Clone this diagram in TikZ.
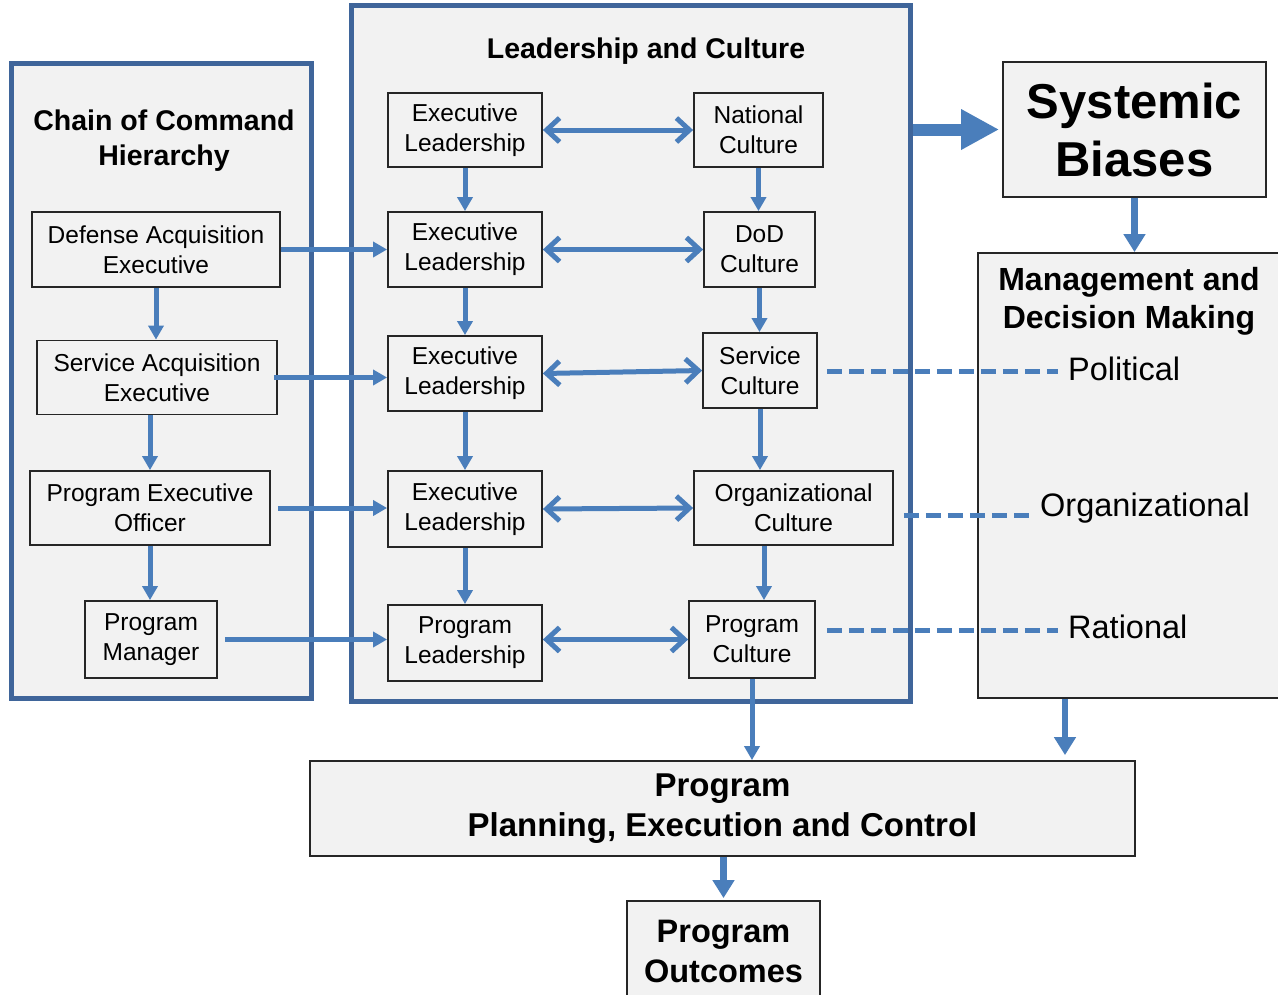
\documentclass[tikz,border=0pt]{standalone}
\usepackage{fontspec}
\setmainfont{Liberation Sans}
\usetikzlibrary{arrows.meta}
\definecolor{arrblue}{HTML}{4A7EBB}
\definecolor{contblue}{HTML}{3F659A}
\definecolor{boxfill}{HTML}{F2F2F2}
\definecolor{boxline}{HTML}{262626}
\tikzset{
 nbox/.style={draw=boxline, line width=1.8pt, fill=boxfill, inner sep=0pt, align=center, font=\fontsize{24.5}{30}\selectfont},
 bigbox/.style={draw=boxline, line width=1.8pt, fill=boxfill, inner sep=0pt},
 cont/.style={draw=contblue, line width=5pt, fill=boxfill, inner sep=0pt},
 arr/.style={draw=arrblue, line width=5pt, -{Triangle[length=14pt,width=15pt]}},
 arrb/.style={draw=arrblue, line width=6.5pt, -{Triangle[length=18pt,width=21pt]}},
 dbl/.style={draw=arrblue, line width=5pt, {Straight Barb[length=13pt,width=24pt]}-{Straight Barb[length=13pt,width=24pt]}},
 dashln/.style={draw=arrblue, line width=5pt, dash pattern=on 15pt off 7pt},
 ttl/.style={font=\bfseries\fontsize{28.5}{35}\selectfont, align=center, inner sep=0pt},
 lbl/.style={font=\fontsize{32.5}{38}\selectfont, inner sep=0pt, anchor=west},
}
\begin{document}
\begin{tikzpicture}[x=1pt,y=-1pt]
\clip (0,0) rectangle (1278,994);
\fill[white] (0,0) rectangle (1278,994);
% containers
\node[cont, minimum width=300, minimum height=635] (lc) at (161,380.5) {};
\node[cont, minimum width=559, minimum height=696] (mc) at (630.5,353) {};
\node[bigbox, minimum width=304, minimum height=445] (mdm) at (1130,475.5) {};
% titles
\node[ttl] (lct) at (164,141) {Chain of Command\\Hierarchy};
\node[ttl] (mct) at (646,51) {Leadership and Culture};
\node[ttl, font=\bfseries\fontsize{32}{38}\selectfont] (mdmt) at (1129,301) {Management and\\Decision Making};
% left nodes
\node[nbox, minimum width=248, minimum height=75] (dae) at (156,249.5) {Defense Acquisition\\Executive};
\node[nbox, minimum width=240, minimum height=74] (sae) at (157,377.5) {Service Acquisition\\Executive};
\node[nbox, minimum width=240, minimum height=74] (peo) at (150,508) {Program Executive\\Officer};
\node[nbox, minimum width=132, minimum height=77] (pm) at (151,639.5) {Program\\Manager};
% middle left nodes
\node[nbox, minimum width=154, minimum height=74] (el1) at (465,130) {Executive\\Leadership};
\node[nbox, minimum width=154, minimum height=75] (el2) at (465,249.5) {Executive\\Leadership};
\node[nbox, minimum width=154, minimum height=75] (el3) at (465,373.5) {Executive\\Leadership};
\node[nbox, minimum width=154, minimum height=76] (el4) at (465,509) {Executive\\Leadership};
\node[nbox, minimum width=154, minimum height=76] (pl) at (465,643) {Program\\Leadership};
% middle right nodes
\node[nbox, minimum width=129, minimum height=74] (nc) at (758.5,130) {National\\Culture};
\node[nbox, minimum width=111, minimum height=75] (dod) at (759.5,249.5) {DoD\\Culture};
\node[nbox, minimum width=114, minimum height=75] (sc) at (760,370.5) {Service\\Culture};
\node[nbox, minimum width=199, minimum height=74] (oc) at (793.5,508) {Organizational\\Culture};
\node[nbox, minimum width=126, minimum height=77] (pc) at (752,639.5) {Program\\Culture};
% right nodes
\node[bigbox, minimum width=263, minimum height=135, align=center, font=\bfseries\fontsize{49}{58}\selectfont] (sb) at (1134.5,129.5) {Systemic\\Biases};
\node[bigbox, minimum width=825, minimum height=95, align=center, font=\bfseries\fontsize{33}{40}\selectfont] (ppec) at (722.5,808.5) {Program\\Planning, Execution and Control};
\node[bigbox, minimum width=193, minimum height=100, align=center, font=\bfseries\fontsize{32.5}{40}\selectfont] (po) at (723.5,951) {Program\\Outcomes};
% labels in MDM
\node[lbl] (pol) at (1068,369) {Political};
\node[lbl] (org) at (1040,508) {Organizational};
\node[lbl] (rat) at (1068,627) {Rational};
% left column arrows
\draw[arr] (dae.south) -- (dae.south |- sae.north);
\draw[arr] (sae.south -| peo.north) -- (peo.north);
\draw[arr] (peo.south) -- (peo.south |- pm.north);
% left to middle
\draw[arr] (dae.east) -- (dae.east -| el2.west);
\draw[arr, shorten <=-4pt] (sae.east) -- (sae.east -| el3.west);
\draw[arr, shorten <=7pt] (peo.east) -- (peo.east -| el4.west);
\draw[arr, shorten <=7pt] (pm.east) -- (pm.east -| pl.west);
% middle left vertical
\draw[arr] (el1.south) -- (el2.north);
\draw[arr] (el2.south) -- (el3.north);
\draw[arr] (el3.south) -- (el4.north);
\draw[arr] (el4.south) -- (pl.north);
% middle right vertical
\draw[arr] (nc.south) -- (nc.south |- dod.north);
\draw[arr] (dod.south) -- (dod.south |- sc.north);
\draw[arr] (sc.south) -- (sc.south |- oc.north);
\coordinate (ocx) at (764,0);
\draw[arr] (ocx |- oc.south) -- (ocx |- pc.north);
% double arrows
\draw[dbl] (el1.east) -- (nc.west);
\draw[dbl] (el2.east) -- (dod.west);
\draw[dbl] (el3.east) -- (sc.west);
\draw[dbl] (el4.east) -- (oc.west);
\draw[dbl] (pl.east |- pc.west) -- (pc.west);
% dashed lines
\coordinate (py) at (0,371);
\coordinate (oy) at (0,515);
\coordinate (ry) at (0,630);
\draw[dashln, shorten <=9pt, shorten >=10pt] (sc.east |- py) -- (pol.west |- py);
\draw[dashln, shorten <=10pt, shorten >=5pt] (oc.east |- oy) -- (org.west |- oy);
\draw[dashln, shorten <=11pt, shorten >=10pt] (pc.east |- ry) -- (rat.west |- ry);
% big arrow
\draw[draw=arrblue, line width=12pt, -{Triangle[length=38pt,width=38pt]}, shorten >=3pt] (mc.east |- sb.west) -- (sb.west);
% right column arrows
\draw[arrb] (sb.south) -- (sb.south |- mdm.north);
\coordinate (mx) at (1065,0);
\draw[arrb, shorten >=5pt] (mx |- mdm.south) -- (mx |- ppec.north);
\draw[arr] (pc.south) -- (pc.south |- ppec.north);
\draw[arrb, shorten >=2pt] (po.north |- ppec.south) -- (po.north);
\end{tikzpicture}
\end{document}
